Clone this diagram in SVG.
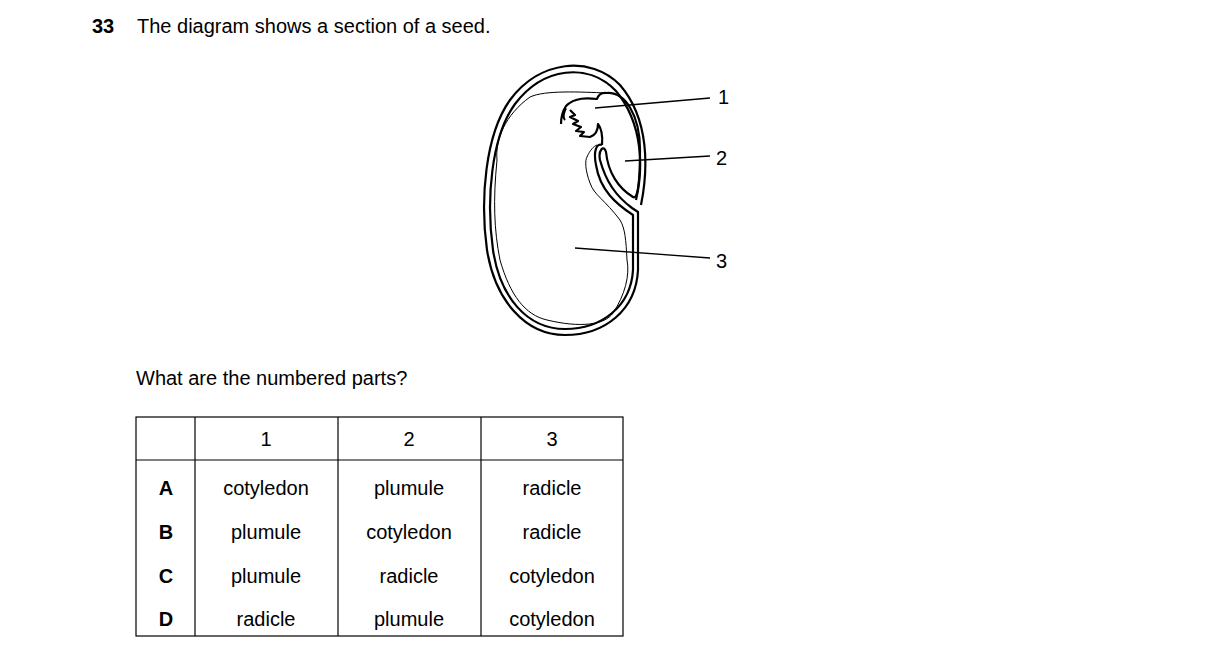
<svg xmlns="http://www.w3.org/2000/svg" width="1216" height="661" viewBox="0 0 1216 661">
<style>
text{font-family:"Liberation Sans",Arial,sans-serif;font-size:20px;fill:#000}
.c{text-anchor:middle}
.b{font-weight:bold}
.k{fill:none;stroke:#000;stroke-width:2.2;stroke-linejoin:round}
.t{fill:none;stroke:#000;stroke-width:1}
.g line{stroke:#000;stroke-width:1.3}
</style>
<rect width="1216" height="661" fill="#fff"/>
<text x="92" y="33" class="b">33</text>
<text x="137" y="33">The diagram shows a section of a seed.</text>
<g id="seed">
<path class="k" d="M641,205 C648,170 650,120 620,85 C590,55 540,60 510,100 C485,135 480,200 487,250 C495,300 525,335 565,335 C605,335 636,310 638,270 L638,212 L632,208 C616,196 606,182 600,160 C598,150 604,144 606,152 C608,172 618,188 633,197 C638,200 640,180 640,150 C640,115 625,92 607,93"/>
<path class="k" d="M636,200 C643,170 644,125 616,91 C588,62 543,67 515,104 C491,137 486,200 493,250 C500,297 527,329 565,329 C602,329 631,306 633,270 L633,215 C616,204 600,190 596,165 C593,150 597,143 602,145"/>
<path class="t" d="M607,93 C580,92 545,90 530,97 C505,115 495,140 497,160 C493,200 494,230 500,260 C510,295 525,315 547,320 C580,328 605,325 613,313 C625,295 630,275 627,260 C626,240 625,228 620,220 C605,200 594,195 590,183 C585,170 585,160 587,157 C590,150 594,146 597,145"/>
<path class="k" d="M607,93 C600,92 598,96 597,99 C588,98 575,97 566,106 C562,112 561,118 561,124 M566,108 C563,114 563,118 565,120 M570,110 L575,115 L570,117 L578,121 L573,124 L581,127 L576,131 L584,132 L580,136 L590,137 C596,135 598,130 598,124 C601,128 603,134 602,145"/>
</g>
<g id="labels" class="g">
<line x1="595" y1="108" x2="710" y2="98"/>
<line x1="625" y1="161" x2="710" y2="156"/>
<line x1="575" y1="248" x2="710" y2="258"/>
<text x="718" y="104">1</text>
<text x="716" y="165">2</text>
<text x="716" y="268">3</text>
</g>
<text x="136" y="385">What are the numbered parts?</text>
<g id="table">
<g fill="none" stroke="#000" stroke-width="1.2">
<rect x="136" y="417" width="487" height="219"/>
<line x1="195" y1="417" x2="195" y2="636"/>
<line x1="338" y1="417" x2="338" y2="636"/>
<line x1="481" y1="417" x2="481" y2="636"/>
<line x1="136" y1="460" x2="623" y2="460"/>
</g>
<text class="c" x="266" y="446">1</text><text class="c" x="409" y="446">2</text><text class="c" x="552" y="446">3</text>
<text class="c b" x="166" y="495">A</text><text class="c" x="266" y="495">cotyledon</text><text class="c" x="409" y="495">plumule</text><text class="c" x="552" y="495">radicle</text>
<text class="c b" x="166" y="539">B</text><text class="c" x="266" y="539">plumule</text><text class="c" x="409" y="539">cotyledon</text><text class="c" x="552" y="539">radicle</text>
<text class="c b" x="166" y="583">C</text><text class="c" x="266" y="583">plumule</text><text class="c" x="409" y="583">radicle</text><text class="c" x="552" y="583">cotyledon</text>
<text class="c b" x="166" y="626">D</text><text class="c" x="266" y="626">radicle</text><text class="c" x="409" y="626">plumule</text><text class="c" x="552" y="626">cotyledon</text>
</g>
</svg>
